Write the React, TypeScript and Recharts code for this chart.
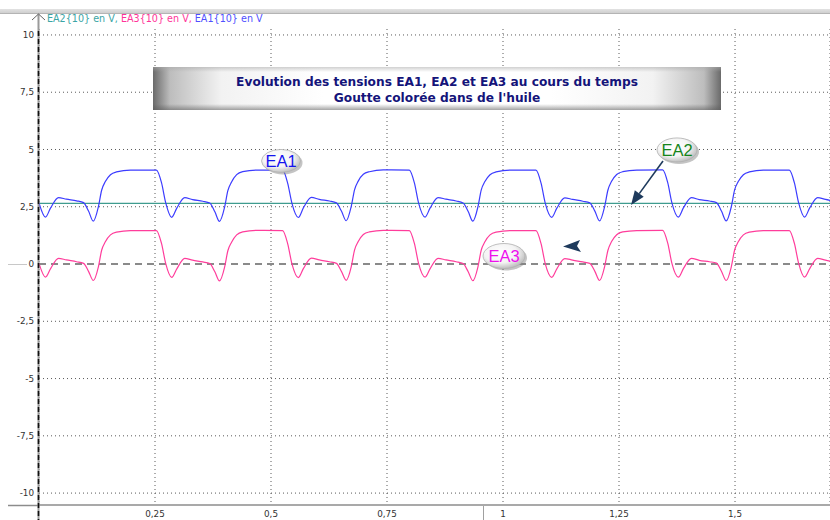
import React from 'react';
import {
  LineChart,
  Line,
  XAxis,
  YAxis,
  CartesianGrid,
  ReferenceLine,
  ReferenceDot,
} from 'recharts';

// Sample times (s)
const timeS = [
  0,
  0.014, 0.025, 0.042, 0.059, 0.081, 0.096, 0.107, 0.117, 0.128, 0.135, 0.143, 0.154, 0.167, 0.197, 0.253, 0.264, 0.273,
  0.286, 0.297, 0.314, 0.331, 0.353, 0.368, 0.379, 0.389, 0.4, 0.407, 0.415, 0.426, 0.439, 0.469, 0.525, 0.536, 0.545,
  0.559, 0.57, 0.587, 0.604, 0.626, 0.641, 0.652, 0.662, 0.673, 0.68, 0.688, 0.699, 0.712, 0.742, 0.798, 0.809, 0.818,
  0.832, 0.843, 0.86, 0.877, 0.899, 0.914, 0.925, 0.935, 0.946, 0.953, 0.961, 0.972, 0.985, 1.015, 1.071, 1.082, 1.091,
  1.105, 1.116, 1.133, 1.15, 1.172, 1.187, 1.198, 1.208, 1.219, 1.226, 1.234, 1.245, 1.258, 1.288, 1.344, 1.355, 1.364,
  1.378, 1.389, 1.406, 1.423, 1.445, 1.46, 1.471, 1.481, 1.492, 1.499, 1.507, 1.518, 1.531, 1.561, 1.617, 1.628, 1.637,
  1.65, 1.661, 1.678, 1.695, 1.705,
];

// EA1 (V)
const ea1V = [
  2.67,
  2.05, 2.45, 2.9, 2.83, 2.76, 2.68, 2.3, 1.87, 2.5, 3.22, 3.6, 3.9, 4.02, 4.1, 4.1, 3.55, 2.68,
  2.04, 2.44, 2.9, 2.81, 2.74, 2.66, 2.28, 1.86, 2.48, 3.2, 3.58, 3.9, 4.03, 4.1, 4.1, 3.52, 2.66,
  2.03, 2.46, 2.91, 2.82, 2.75, 2.67, 2.3, 1.89, 2.52, 3.24, 3.62, 3.92, 4.03, 4.11, 4.1, 3.54, 2.67,
  2.05, 2.45, 2.9, 2.83, 2.75, 2.66, 2.29, 1.87, 2.5, 3.23, 3.6, 3.9, 4.02, 4.1, 4.1, 3.53, 2.66,
  2.04, 2.44, 2.89, 2.82, 2.74, 2.67, 2.31, 1.88, 2.51, 3.22, 3.61, 3.91, 4.03, 4.1, 4.11, 3.55, 2.67,
  2.05, 2.46, 2.9, 2.81, 2.75, 2.68, 2.3, 1.88, 2.5, 3.23, 3.6, 3.9, 4.02, 4.1, 4.1, 3.54, 2.68,
  2.05, 2.45, 2.9, 2.82, 2.78,
];

// EA3 (V)
const ea3V = [
  0.03,
  -0.57, -0.2, 0.25, 0.18, 0.1, 0.03, -0.33, -0.72, -0.12, 0.6, 0.97, 1.27, 1.39, 1.46, 1.46, 0.9, 0.03,
  -0.58, -0.21, 0.25, 0.17, 0.09, 0.02, -0.34, -0.74, -0.14, 0.58, 0.95, 1.27, 1.4, 1.47, 1.46, 0.88, 0.02,
  -0.59, -0.19, 0.26, 0.18, 0.1, 0.03, -0.33, -0.71, -0.11, 0.61, 0.98, 1.29, 1.4, 1.47, 1.46, 0.9, 0.03,
  -0.57, -0.2, 0.25, 0.18, 0.1, 0.02, -0.34, -0.73, -0.12, 0.6, 0.97, 1.27, 1.39, 1.46, 1.46, 0.89, 0.02,
  -0.58, -0.21, 0.24, 0.17, 0.09, 0.03, -0.32, -0.72, -0.11, 0.59, 0.98, 1.28, 1.4, 1.46, 1.47, 0.91, 0.03,
  -0.57, -0.19, 0.25, 0.16, 0.1, 0.04, -0.33, -0.72, -0.12, 0.6, 0.97, 1.27, 1.39, 1.46, 1.46, 0.9, 0.04,
  -0.57, -0.2, 0.25, 0.17, 0.13,
];

// EA2 (V), constant level
const ea2Time = [0, 1.705];
const ea2V = [2.65, 2.65];

const xTicks = [0.25, 0.5, 0.75, 1, 1.25, 1.5];
const yTicks = [-10, -7.5, -5, -2.5, 0, 2.5, 5, 7.5, 10];

const titleLines = [
  'Evolution des tensions EA1, EA2 et EA3 au cours du temps',
  "Goutte colorée dans de l'huile",
];

const series = [
  { key: 'ea2', name: 'EA2{10} en V', line: '#3f9c8f', text: '#3aa5a5' },
  { key: 'ea3', name: 'EA3{10} en V', line: '#ff3d9b', text: '#ff3399' },
  { key: 'ea1', name: 'EA1{10} en V', line: '#3c3cff', text: '#5050ff' },
];

// Callout bubbles: label, anchor (time, volts), text colour
const callouts = [
  { label: 'EA1', t: 0.5216, v: 4.5, color: '#1414ee', rx: 19.5, ry: 11.5 },
  { label: 'EA2', t: 1.375, v: 4.98, color: '#15851a', rx: 20, ry: 12 },
  { label: 'EA3', t: 1.0022, v: 0.35, color: '#ee10ee', rx: 21, ry: 12.5 },
];

const rows = timeS.map((t, i) => ({ t, ea1: ea1V[i], ea3: ea3V[i] }));
const ea2Rows = ea2Time.map((t, i) => ({ t, ea2: ea2V[i] }));

// zero has its own dashed line, so the dotted grid skips it
const gridYValues = yTicks.filter((v) => v !== 0);

const colorOf = (k: string) => series.find((s) => s.key === k)!;

const fmt = (v: number) => String(v).replace('.', ',');

const tickFont = { fontSize: 8.8, fill: '#333', fontFamily: 'DejaVu Sans' };

const Bubble = (props: any) => {
  const { cx, cy, c } = props;
  if (cx == null || cy == null) return null;
  const gid = `bub-${c.label}`;
  return (
    <g>
      <defs>
        <radialGradient id={gid} cx="42%" cy="38%" r="65%">
          <stop offset="0%" stopColor="#ffffff" />
          <stop offset="60%" stopColor="#f4f4f4" />
          <stop offset="100%" stopColor="#b9b9b9" />
        </radialGradient>
      </defs>
      <ellipse cx={cx + 2} cy={cy + 2} rx={c.rx} ry={c.ry} fill="#7d7d7d" opacity={0.45} />
      <ellipse cx={cx} cy={cy} rx={c.rx} ry={c.ry} fill={`url(#${gid})`} stroke="#b0b0b0" strokeWidth={0.8} />
      <text
        x={cx}
        y={cy + 6}
        textAnchor="middle"
        fontSize={16.5}
        fontFamily="Liberation Sans, Arial, sans-serif"
        fill={c.color}
      >
        {c.label}
      </text>
    </g>
  );
};

const Arrow = (props: any) => {
  const { x1, y1, x2, y2 } = props;
  if ([x1, y1, x2, y2].some((v) => v == null || Number.isNaN(v))) return null;
  const ang = Math.atan2(y2 - y1, x2 - x1);
  const len = 14;
  const half = 5.5;
  const bx = x2 - len * Math.cos(ang);
  const by = y2 - len * Math.sin(ang);
  const px = -Math.sin(ang) * half;
  const py = Math.cos(ang) * half;
  return (
    <g>
      <line x1={x1} y1={y1} x2={bx} y2={by} stroke="#1e3a5c" strokeWidth={1.6} />
      <polygon points={`${x2},${y2} ${bx + px},${by + py} ${bx - px},${by - py}`} fill="#1e3a5c" />
    </g>
  );
};

const LoneHead = (props: any) => {
  const { cx, cy } = props;
  if (cx == null || cy == null) return null;
  return (
    <polygon
      points={`${cx},${cy} ${cx + 17},${cy - 6.5} ${cx + 14},${cy - 0.5} ${cx + 18},${cy + 5.5}`}
      fill="#1e3a5c"
    />
  );
};

export default function App() {
  return (
    <div
      style={{
        position: 'absolute',
        left: 0,
        top: 0,
        width: 830,
        height: 520,
        background: '#fff',
        overflow: 'hidden',
      }}
    >
      {/* window strip */}
      <div
        style={{
          position: 'absolute',
          left: 0,
          top: 9,
          width: 830,
          height: 4,
          background: 'linear-gradient(#e2e2e2, #cfcfcf)',
          borderBottom: '1px solid #b4b4b4',
        }}
      />

      <LineChart
        width={830}
        height={520}
        data={rows}
        margin={{ top: 29, right: 0, bottom: 0, left: 0 }}
        style={{ position: 'absolute', left: 0, top: 0 }}
      >
        <CartesianGrid stroke="#5a5a5a" strokeDasharray="1 3" horizontalValues={gridYValues} />
        <XAxis
          dataKey="t"
          type="number"
          domain={[0, 1.7047]}
          ticks={xTicks}
          tickFormatter={fmt}
          height={15}
          tickSize={0}
          tickMargin={6}
          axisLine={{ stroke: '#8c8c8c', strokeWidth: 1.5 }}
          tick={tickFont}
          allowDataOverflow
        />
        <YAxis
          type="number"
          domain={[-10.52, 10.26]}
          ticks={yTicks}
          tickFormatter={fmt}
          width={39}
          tickSize={0}
          tickMargin={5}
          axisLine={false}
          tick={tickFont}
          allowDataOverflow
        />
        <ReferenceLine y={0} stroke="#8a8a8a" strokeWidth={2} strokeDasharray="7 5" />
        <Line
          data={ea2Rows}
          dataKey="ea2"
          type="linear"
          stroke={colorOf('ea2').line}
          strokeWidth={1.3}
          dot={false}
          isAnimationActive={false}
        />
        <Line
          dataKey="ea3"
          type="monotone"
          stroke={colorOf('ea3').line}
          strokeWidth={1.2}
          dot={false}
          isAnimationActive={false}
        />
        <Line
          dataKey="ea1"
          type="monotone"
          stroke={colorOf('ea1').line}
          strokeWidth={1.2}
          dot={false}
          isAnimationActive={false}
        />
        <ReferenceLine
          segment={[
            { x: 1.3448, y: 4.5 },
            { x: 1.2759, y: 2.58 },
          ]}
          shape={(p: any) => <Arrow {...p} />}
        />
        <ReferenceDot x={1.1293} y={0.76} r={1} shape={(p: any) => <LoneHead {...p} />} />
        {callouts.map((c) => (
          <ReferenceDot
            key={c.label}
            x={c.t}
            y={c.v}
            r={1}
            shape={(p: any) => <Bubble {...p} c={c} />}
          />
        ))}
      </LineChart>

      {/* series caption */}
      <div
        style={{
          position: 'absolute',
          left: 47,
          top: 13,
          fontFamily: 'DejaVu Sans',
          fontSize: 9.6,
          lineHeight: '12px',
          whiteSpace: 'nowrap',
        }}
      >
        {series.map((s, i) => (
          <span key={s.key} style={{ color: s.text }}>
            {s.name}
            {i < series.length - 1 ? ', ' : ''}
          </span>
        ))}
      </div>

      {/* title box */}
      <div
        style={{
          position: 'absolute',
          left: 153,
          top: 67,
          width: 568,
          height: 43,
          background:
            'linear-gradient(to bottom, rgba(170,170,170,0.55) 0px, rgba(255,255,255,0) 5px, rgba(255,255,255,0) 37px, rgba(90,90,90,0.55) 43px), linear-gradient(to right, #6a6a6a 0%, #bdbdbd 3%, #f2f2f2 12%, #ffffff 30%, #ffffff 70%, #f2f2f2 88%, #bdbdbd 97%, #6a6a6a 100%)',
        }}
      >
        <svg width={568} height={43} style={{ position: 'absolute', left: 0, top: 0 }}>
          {titleLines.map((l, i) => (
            <text
              key={i}
              x={284}
              y={19 + i * 16}
              textAnchor="middle"
              fontFamily="DejaVu Sans"
              fontWeight="bold"
              fontSize={12.2}
              fill="#14147a"
            >
              {l}
            </text>
          ))}
        </svg>
      </div>

      {/* axis decorations */}
      <svg
        width={830}
        height={520}
        style={{ position: 'absolute', left: 0, top: 0, pointerEvents: 'none' }}
      >
        <line x1={8} y1={505.5} x2={39} y2={505.5} stroke="#8c8c8c" strokeWidth={1.5} />
        <line x1={38.5} y1={14} x2={38.5} y2={520} stroke="#9a9a9a" strokeWidth={2} />
        <line x1={38.5} y1={31} x2={38.5} y2={520} stroke="#111" strokeWidth={1.6} strokeDasharray="5 3" />
        <polyline points="32,20 38.5,14 45,20" fill="none" stroke="#666" strokeWidth={1} />
        <line x1={483.5} y1={506} x2={483.5} y2={520} stroke="#a0a0a0" strokeWidth={1} />
        <line x1={8} y1={264.5} x2={27} y2={264.5} stroke="#c8c8c8" strokeWidth={1} />
      </svg>
    </div>
  );
}
